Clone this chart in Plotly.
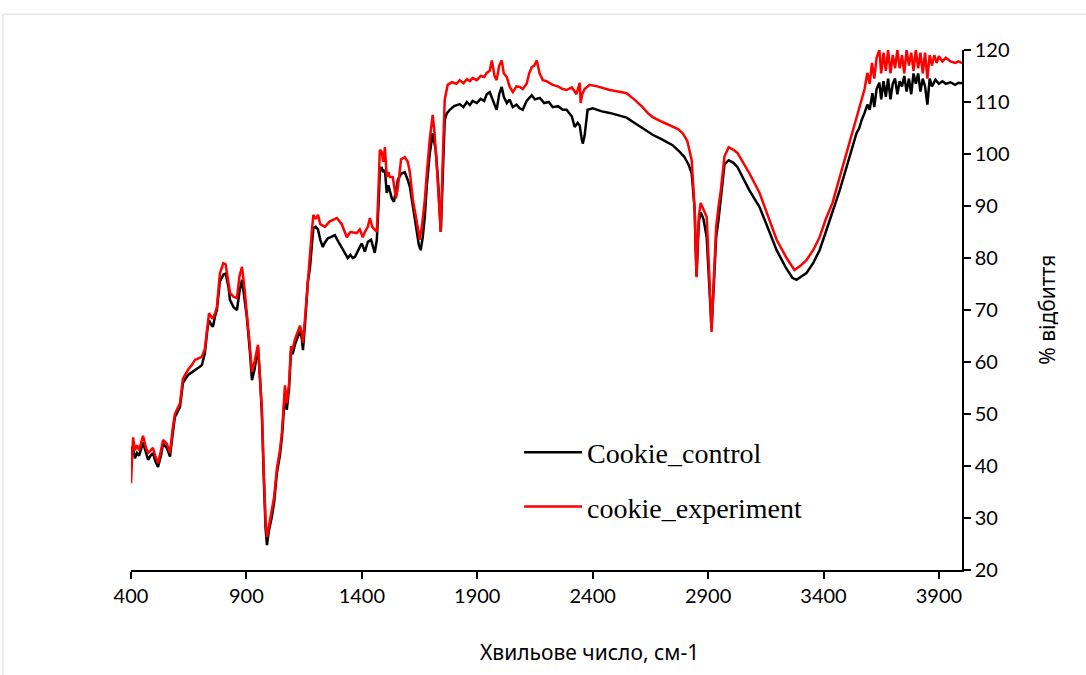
import plotly.graph_objects as go

# Wavenumber (cm-1) and % reflectance
control_wn = [400, 405, 409, 417, 426, 435, 452, 465, 474, 485, 495, 505, 517, 530, 539, 555, 569, 580, 590, 612,
              625, 647, 665, 677, 695, 707, 720, 730, 738, 750, 755, 765, 772, 785, 800, 810, 822, 829, 845, 859,
              870, 881, 892, 902, 915, 924, 935, 950, 960, 967, 975, 983, 989, 997, 1010, 1020, 1032, 1045, 1054, 1067,
              1075, 1085, 1093, 1100, 1110, 1120, 1132, 1140, 1145, 1155, 1166, 1175, 1184, 1190, 1200, 1210, 1220, 1231, 1240, 1253,
              1265, 1283, 1300, 1313, 1325, 1339, 1350, 1360, 1370, 1380, 1391, 1400, 1413, 1426, 1440, 1456, 1465, 1472, 1478, 1485,
              1493, 1500, 1508, 1515, 1521, 1530, 1539, 1547, 1556, 1570, 1586, 1599, 1608, 1621, 1638, 1647, 1655, 1664, 1673, 1681,
              1694, 1707, 1715, 1720, 1730, 1742, 1750, 1759, 1768, 1781, 1800, 1824, 1840, 1855, 1868, 1880, 1898, 1915, 1930, 1941,
              1954, 1963, 1975, 1984, 1995, 2006, 2015, 2028, 2040, 2054, 2070, 2084, 2097, 2114, 2136, 2150, 2171, 2190, 2210, 2227,
              2250, 2270, 2287, 2310, 2322, 2335, 2344, 2352, 2357, 2365, 2378, 2400, 2440, 2474, 2510, 2547, 2580, 2616, 2660, 2700,
              2746, 2775, 2798, 2815, 2829, 2837, 2842, 2846, 2850, 2855, 2860, 2868, 2880, 2894, 2905, 2915, 2925, 2935, 2945, 2955,
              2971, 2989, 3010, 3027, 3050, 3079, 3123, 3160, 3197, 3235, 3265, 3283, 3300, 3326, 3355, 3383, 3410, 3439, 3470, 3500,
              3520, 3543, 3555, 3565, 3578, 3590, 3600, 3612, 3620, 3630, 3642, 3650, 3660, 3670, 3680, 3690, 3700, 3710, 3720, 3730,
              3740, 3750, 3760, 3770, 3780, 3790, 3800, 3810, 3820, 3830, 3840, 3850, 3860, 3870, 3885, 3900, 3915, 3930, 3950, 3970,
              3985, 4000]
control_pct = [40.6, 43.5, 43.5, 41.5, 42.5, 42.0, 44.5, 42.5, 41.2, 42.0, 42.5, 41.0, 39.8, 42.0, 44.3, 43.5, 41.8, 46.0, 49.4, 51.3,
               56.0, 57.5, 58.0, 58.5, 59.0, 59.4, 61.7, 66.0, 68.0, 67.0, 66.8, 69.0, 70.0, 75.5, 76.8, 77.0, 74.5, 71.9, 70.5, 70.0,
               73.5, 75.8, 72.5, 68.6, 62.0, 56.5, 58.5, 62.9, 56.0, 50.0, 38.0, 28.0, 24.8, 27.5, 30.2, 33.0, 38.7, 42.0, 45.6, 54.0,
               50.8, 55.0, 62.0, 61.5, 63.3, 64.5, 66.0, 64.5, 62.3, 68.0, 75.4, 78.0, 83.0, 85.8, 86.0, 85.5, 83.5, 82.1, 83.0, 83.8,
               84.0, 84.4, 83.0, 82.0, 80.8, 80.0, 80.6, 80.0, 80.2, 81.2, 82.1, 82.8, 81.2, 83.1, 83.5, 81.0, 83.5, 90.0, 96.5, 97.5,
               96.5, 96.9, 92.5, 94.0, 93.1, 91.5, 90.8, 93.0, 95.0, 96.2, 96.5, 95.0, 93.7, 90.0, 84.8, 82.5, 81.5, 84.0, 88.0, 93.7,
               100.0, 104.0, 102.0, 100.8, 95.0, 85.0, 95.0, 106.5, 107.8, 108.5, 109.2, 109.6, 109.0, 110.0, 109.4, 110.2, 109.8, 110.6, 110.2, 111.5,
               111.9, 111.0, 109.5, 108.5, 111.5, 112.9, 111.0, 109.8, 110.5, 109.0, 109.5, 108.8, 108.5, 110.2, 111.3, 110.5, 110.8, 109.8, 110.0, 109.0,
               109.2, 108.5, 108.5, 107.2, 105.2, 106.0, 105.5, 103.0, 102.0, 103.5, 108.5, 108.8, 108.2, 107.9, 107.5, 107.0, 106.0, 105.0, 103.7, 102.8,
               101.7, 100.5, 99.4, 98.0, 96.3, 92.0, 89.2, 82.0, 76.5, 82.0, 87.0, 88.8, 87.5, 84.0, 75.0, 66.5, 75.0, 84.0, 87.3, 91.0,
               98.0, 98.8, 98.3, 97.5, 95.5, 93.0, 89.8, 85.5, 81.5, 78.3, 76.2, 75.8, 76.3, 77.1, 79.0, 81.5, 85.0, 88.7, 93.0, 97.5,
               100.5, 104.0, 105.0, 106.5, 107.9, 109.5, 108.5, 111.7, 109.0, 112.5, 113.7, 110.5, 114.0, 111.0, 114.5, 110.5, 113.5, 114.5, 111.5, 114.0,
               113.0, 115.0, 112.0, 114.5, 111.5, 115.5, 113.5, 115.5, 112.0, 114.5, 113.0, 109.5, 114.5, 113.0, 114.3, 113.5, 114.0, 113.5, 113.8, 113.3,
               113.7, 113.6]

experiment_wn = [400, 405, 409, 417, 426, 435, 452, 465, 474, 485, 495, 505, 517, 530, 539, 555, 569, 580, 590, 612,
                 625, 647, 665, 677, 695, 707, 720, 730, 738, 750, 755, 765, 772, 785, 800, 810, 822, 829, 845, 859,
                 870, 881, 892, 902, 915, 924, 935, 950, 960, 967, 975, 983, 989, 997, 1010, 1020, 1032, 1045, 1054, 1067,
                 1075, 1085, 1093, 1100, 1110, 1120, 1132, 1140, 1145, 1155, 1166, 1175, 1184, 1190, 1200, 1210, 1220, 1240, 1260, 1292,
                 1313, 1335, 1350, 1378, 1391, 1404, 1413, 1426, 1435, 1445, 1456, 1465, 1472, 1478, 1485, 1493, 1500, 1508, 1515, 1521,
                 1534, 1548, 1556, 1570, 1586, 1599, 1608, 1621, 1638, 1651, 1660, 1673, 1681, 1694, 1707, 1715, 1725, 1742, 1750, 1759,
                 1772, 1790, 1810, 1824, 1840, 1855, 1868, 1880, 1898, 1915, 1930, 1941, 1954, 1963, 1975, 1984, 1995, 2006, 2015, 2028,
                 2040, 2054, 2070, 2084, 2097, 2114, 2125, 2136, 2147, 2158, 2170, 2184, 2200, 2227, 2250, 2270, 2287, 2310, 2330, 2344,
                 2348, 2355, 2365, 2387, 2420, 2474, 2510, 2547, 2580, 2616, 2640, 2660, 2700, 2733, 2770, 2790, 2810, 2829, 2837, 2842,
                 2846, 2850, 2855, 2860, 2868, 2880, 2894, 2905, 2915, 2925, 2935, 2945, 2955, 2971, 2989, 3010, 3027, 3050, 3079, 3123,
                 3160, 3197, 3240, 3274, 3300, 3326, 3355, 3383, 3410, 3439, 3470, 3500, 3520, 3543, 3565, 3578, 3590, 3600, 3610, 3620,
                 3630, 3642, 3650, 3660, 3670, 3680, 3690, 3700, 3710, 3720, 3730, 3740, 3750, 3760, 3770, 3780, 3790, 3800, 3810, 3820,
                 3830, 3840, 3850, 3860, 3870, 3880, 3890, 3900, 3915, 3930, 3950, 3970, 3985, 4000]
experiment_pct = [36.7, 44.0, 45.5, 43.0, 44.0, 43.0, 45.8, 43.5, 42.5, 43.0, 43.5, 42.0, 40.5, 43.0, 45.0, 44.3, 42.5, 47.0, 50.0, 52.0,
                  56.8, 58.5, 59.5, 60.4, 60.8, 61.0, 62.5, 67.0, 69.4, 68.5, 68.4, 69.5, 70.5, 77.0, 79.0, 78.8, 75.5, 73.3, 72.5, 72.3,
                  76.5, 78.3, 74.0, 69.5, 63.0, 58.1, 60.0, 63.3, 57.0, 51.0, 39.0, 29.5, 26.3, 28.5, 31.2, 34.0, 39.5, 43.0, 46.5, 55.5,
                  52.0, 56.0, 63.0, 62.5, 64.3, 65.5, 67.0, 65.5, 63.7, 69.0, 76.0, 80.0, 85.5, 88.3, 87.5, 88.3, 86.5, 86.0, 87.0, 87.7,
                  86.5, 84.0, 85.0, 84.8, 85.5, 84.0, 85.0, 86.0, 87.7, 86.0, 85.4, 85.0, 93.0, 100.8, 100.5, 98.5, 101.3, 95.6, 96.5, 95.6,
                  95.6, 91.5, 93.5, 99.0, 99.4, 98.5, 96.5, 91.2, 87.0, 83.5, 86.0, 91.2, 96.0, 102.7, 107.5, 104.0, 97.5, 85.0, 98.0, 110.4,
                  113.3, 113.8, 113.5, 114.2, 113.6, 114.4, 114.0, 114.6, 114.2, 115.0, 114.8, 115.6, 116.0, 118.0, 115.0, 114.2, 117.0, 118.0, 115.5, 114.8,
                  113.0, 111.9, 113.0, 112.9, 112.5, 113.5, 115.5, 116.7, 117.0, 118.0, 115.5, 114.2, 114.0, 113.3, 113.0, 112.5, 112.3, 112.8, 111.5, 113.7,
                  109.8, 111.5, 112.5, 113.3, 113.0, 112.3, 112.0, 111.7, 110.5, 109.0, 107.8, 107.1, 106.2, 105.6, 104.8, 104.0, 102.5, 98.8, 94.0, 89.2,
                  83.0, 76.3, 83.0, 88.0, 90.6, 89.5, 87.9, 77.0, 65.8, 76.0, 86.0, 89.8, 93.0, 99.5, 101.3, 100.8, 100.2, 98.5, 96.3, 92.5,
                  88.0, 83.5, 80.0, 77.7, 78.5, 79.6, 81.5, 84.0, 87.5, 90.6, 95.5, 100.2, 103.0, 106.5, 110.4, 112.5, 115.6, 113.5, 117.5, 114.5,
                  118.5, 120.0, 115.5, 119.5, 116.0, 120.0, 115.5, 119.0, 116.5, 120.0, 116.5, 119.0, 115.5, 120.0, 117.0, 119.5, 116.0, 120.0, 116.5, 119.5,
                  115.5, 119.5, 114.5, 119.0, 117.0, 119.0, 117.5, 118.8, 117.8, 118.5, 117.8, 117.5, 117.8, 117.5]

x_ticks = [400, 900, 1400, 1900, 2400, 2900, 3400, 3900]
y_ticks = [20, 30, 40, 50, 60, 70, 80, 90, 100, 110, 120]

x_title = "Хвильове число, см-1"
y_title = "% відбиття"

fig = go.Figure()
fig.add_trace(go.Scatter(x=control_wn, y=control_pct, mode="lines", name="Cookie_control",
                         line=dict(color="#000000", width=2.5), legendgroup="a"))
fig.add_trace(go.Scatter(x=experiment_wn, y=experiment_pct, mode="lines", name="cookie_experiment",
                         line=dict(color="#FF0000", width=2.5), legendgroup="b"))

tick_font = dict(family="Lato, 'Noto Sans', sans-serif", size=20, color="#000000")
title_font = dict(family="'Noto Sans', 'Open Sans', sans-serif", size=21, color="#000000")

fig.update_layout(
    width=1086, height=675,
    margin=dict(l=131, r=124, t=50, b=105),
    paper_bgcolor="#FFFFFF", plot_bgcolor="#FFFFFF",
    showlegend=True,
    legend=dict(x=0.467, y=0.274, xanchor="left", yanchor="top",
                font=dict(family="'Liberation Serif', 'Times New Roman', serif", size=28, color="#000000"),
                bgcolor="rgba(0,0,0,0)", tracegroupgap=15, itemwidth=58),
    xaxis=dict(range=[400, 4000], tickvals=x_ticks, ticks="outside", ticklen=7, tickwidth=1.5,
               tickcolor="#000000", showline=True, linecolor="#000000", linewidth=1.5,
               showgrid=False, zeroline=False, tickfont=tick_font),
    yaxis=dict(range=[20, 120], tickvals=y_ticks, side="right", ticks="outside", ticklen=7, tickwidth=1.5,
               tickcolor="#000000", showline=True, linecolor="#000000", linewidth=1.5,
               showgrid=False, zeroline=False, tickfont=tick_font),
    shapes=[dict(type="rect", xref="paper", yref="paper", x0=-0.154, x1=1.16, y0=-0.22, y1=1.069,
                 line=dict(color="#D9D9D9", width=1), fillcolor="rgba(0,0,0,0)", layer="below")],
    annotations=[
        dict(text=x_title, xref="paper", yref="paper", x=0.552, y=-0.158, showarrow=False,
             xanchor="center", yanchor="middle", font=title_font),
        dict(text=y_title, xref="paper", yref="paper", x=1.102, y=0.5, showarrow=False, textangle=-90,
             xanchor="center", yanchor="middle", font=title_font),
    ],
)

fig.write_html("out.html", config={"displayModeBar": False},
               post_script="document.body.style.margin='0px';")
